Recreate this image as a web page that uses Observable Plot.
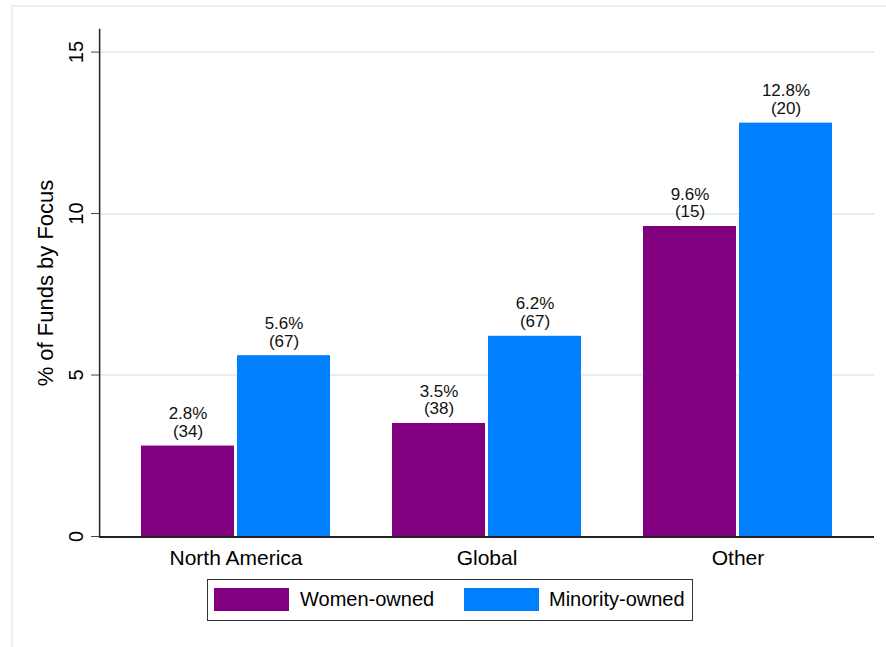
<!DOCTYPE html>
<html>
<head>
<meta charset="utf-8">
<script src="https://cdn.jsdelivr.net/npm/d3@7"></script>
<script src="https://cdn.jsdelivr.net/npm/@observablehq/plot@0.6"></script>
<style>
  html, body { margin: 0; padding: 0; background: #fff; }
  body { width: 886px; height: 647px; position: relative; overflow: hidden; font-family: "Liberation Sans", Arial, sans-serif; }
  #outer { position: absolute; left: 11px; top: 5px; width: 900px; height: 700px; border: 2px solid #eaf1f3; box-sizing: border-box; }
  #chart { position: absolute; left: 0; top: 0; }
  #legend { position: absolute; left: 207px; top: 579px; width: 486px; height: 42px; border: 1px solid #333; box-sizing: border-box; background: #fff; }
  .sw { position: absolute; top: 8px; width: 75px; height: 23px; }
  .lt { position: absolute; top: 8px; font-size: 20px; line-height: 23px; color: #000; white-space: nowrap; }
</style>
</head>
<body>
<div id="outer"></div>
<div id="chart"></div>
<div id="legend"></div>
<script>
// ---- data ----
const regions = ["North America", "Global", "Other"];
const series = ["Women-owned", "Minority-owned"];
const womenPct = [2.8, 3.5, 9.6];
const womenN = [34, 38, 15];
const minorityPct = [5.6, 6.2, 12.8];
const minorityN = [67, 67, 20];
const yTicks = [0, 5, 10, 15];
const gridTicks = [5, 10, 15];
const colors = ["#800080", "#0080ff"];

const rows = [];
regions.forEach((r, i) => {
  rows.push({region: r, series: series[0], pct: womenPct[i], n: womenN[i]});
  rows.push({region: r, series: series[1], pct: minorityPct[i], n: minorityN[i]});
});

const font = "Liberation Sans, Arial, sans-serif";
const extra = 10.9; // Stata plot-region outer gap

const chart = Plot.plot({
  width: 886,
  height: 575,
  marginTop: 29,
  marginBottom: 39,
  marginLeft: 98,
  marginRight: 11,
  style: {fontFamily: font, background: "transparent", color: "#000"},
  fx: {domain: regions, paddingInner: 0, paddingOuter: 0.0432, label: null},
  x: {domain: series, paddingInner: 0.036, paddingOuter: 0.316, axis: null},
  y: {domain: [0, 15.7], axis: null},
  color: {domain: series, range: colors},
  marks: [
    Plot.ruleY(gridTicks, {stroke: "#e6eef1", strokeWidth: 2, insetLeft: -extra, insetRight: -extra, shapeRendering: "crispEdges"}),
    Plot.barY(rows, {fx: "region", x: "series", y: "pct", fill: "series"}),
    Plot.text(rows, {
      fx: "region", x: "series", y: "pct",
      text: d => `${d.pct.toFixed(1)}%\n(${d.n})`,
      lineAnchor: "bottom", lineHeight: 1.05, dy: -9, fontSize: 17, fill: "#111"
    }),
    Plot.ruleY([0], {stroke: "#222", strokeWidth: 2, insetLeft: -extra, insetRight: -extra, shapeRendering: "crispEdges"}),
    Plot.frame({anchor: "left", facetAnchor: "left", insetLeft: -extra, stroke: "#222", strokeWidth: 1.5}),
    Plot.axisY({
      ticks: yTicks, tickFormat: d => String(d), tickSize: 8, tickPadding: 9, tickRotate: -90,
      fontSize: 20, dx: -extra, stroke: "#444", label: null
    }),
    Plot.text(["% of Funds by Focus"], {
      frameAnchor: "left", facetAnchor: "left", rotate: -90, textAnchor: "middle",
      lineAnchor: "bottom", dx: 51 - 108.9, fontSize: 22, fill: "#000"
    }),
    Plot.axisFx({anchor: "bottom", tickSize: 0, tickPadding: 14, fontSize: 21, label: null})
  ]
});
document.getElementById("chart").appendChild(chart);

// ---- legend ----
const legend = document.getElementById("legend");
const swLeft = [6, 256];
const txtLeft = [92, 341];
series.forEach((s, i) => {
  const sw = document.createElement("div");
  sw.className = "sw";
  sw.style.left = swLeft[i] + "px";
  sw.style.background = colors[i];
  legend.appendChild(sw);
  const t = document.createElement("div");
  t.className = "lt";
  t.style.left = txtLeft[i] + "px";
  t.textContent = s;
  legend.appendChild(t);
});
</script>
</body>
</html>
